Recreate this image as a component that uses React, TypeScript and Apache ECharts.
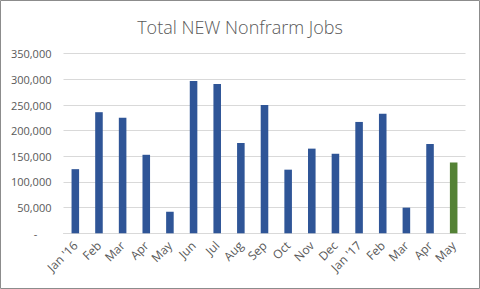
import React, { useEffect, useRef } from "react";
import * as echarts from "echarts";

const categories = ["Jan '16", "Feb", "Mar", "Apr", "May", "Jun", "Jul", "Aug", "Sep", "Oct", "Nov", "Dec", "Jan '17", "Feb", "Mar", "Apr", "May"];
const jobs = [125000, 236000, 225000, 153000, 42000, 297000, 291000, 176000, 250000, 124000, 165000, 155000, 217000, 233000, 50000, 174000, 138000];
const highlightIndex = 16;
const titleText = "Total NEW Nonfrarm Jobs";

export default function App() {
  const ref = useRef<HTMLDivElement>(null);
  useEffect(() => {
    if (!ref.current) return;
    const chart = echarts.init(ref.current, undefined, { renderer: "svg" });
    chart.setOption({
      animation: false,
      backgroundColor: "#ffffff",
      title: {
        text: titleText,
        left: "center",
        top: 13,
        textStyle: { fontFamily: "Open Sans", fontSize: 18, fontWeight: 300, color: "#595959" },
      },
      grid: { left: 63.5, right: 14.5, top: 53.7, bottom: 55.7, containLabel: false },
      xAxis: {
        type: "category",
        data: categories,
        axisLine: { lineStyle: { color: "#d9d9d9", width: 1 } },
        axisTick: { show: false },
        axisLabel: {
          interval: 0,
          rotate: 45,
          fontFamily: "Open Sans",
          fontSize: 12,
          color: "#595959",
          margin: 10,
        },
      },
      yAxis: {
        type: "value",
        min: 0,
        max: 350000,
        interval: 50000,
        axisLine: { show: false },
        axisTick: { show: false },
        splitLine: { lineStyle: { color: "#d9d9d9", width: 1 } },
        axisLabel: {
          fontFamily: "Open Sans",
          fontSize: 11,
          color: "#595959",
          margin: 12,
          formatter: (v: number) => (v === 0 ? "-     " : v.toLocaleString("en-US")),
        },
      },
      series: [
        {
          type: "bar",
          barWidth: "32%",
          data: jobs.map((v, i) => ({
            value: v,
            itemStyle: { color: i === highlightIndex ? "#548235" : "#2f5597" },
          })),
        },
      ],
      graphic: [
        {
          type: "rect",
          shape: { x: 0.5, y: 0.5, width: 479, height: 288 },
          style: { fill: "none", stroke: "#8c8c8c", lineWidth: 1 },
          silent: true,
        },
      ],
    });
    return () => chart.dispose();
  }, []);
  return <div ref={ref} style={{ position: "absolute", left: 0, top: 0, width: 480, height: 289 }} />;
}
